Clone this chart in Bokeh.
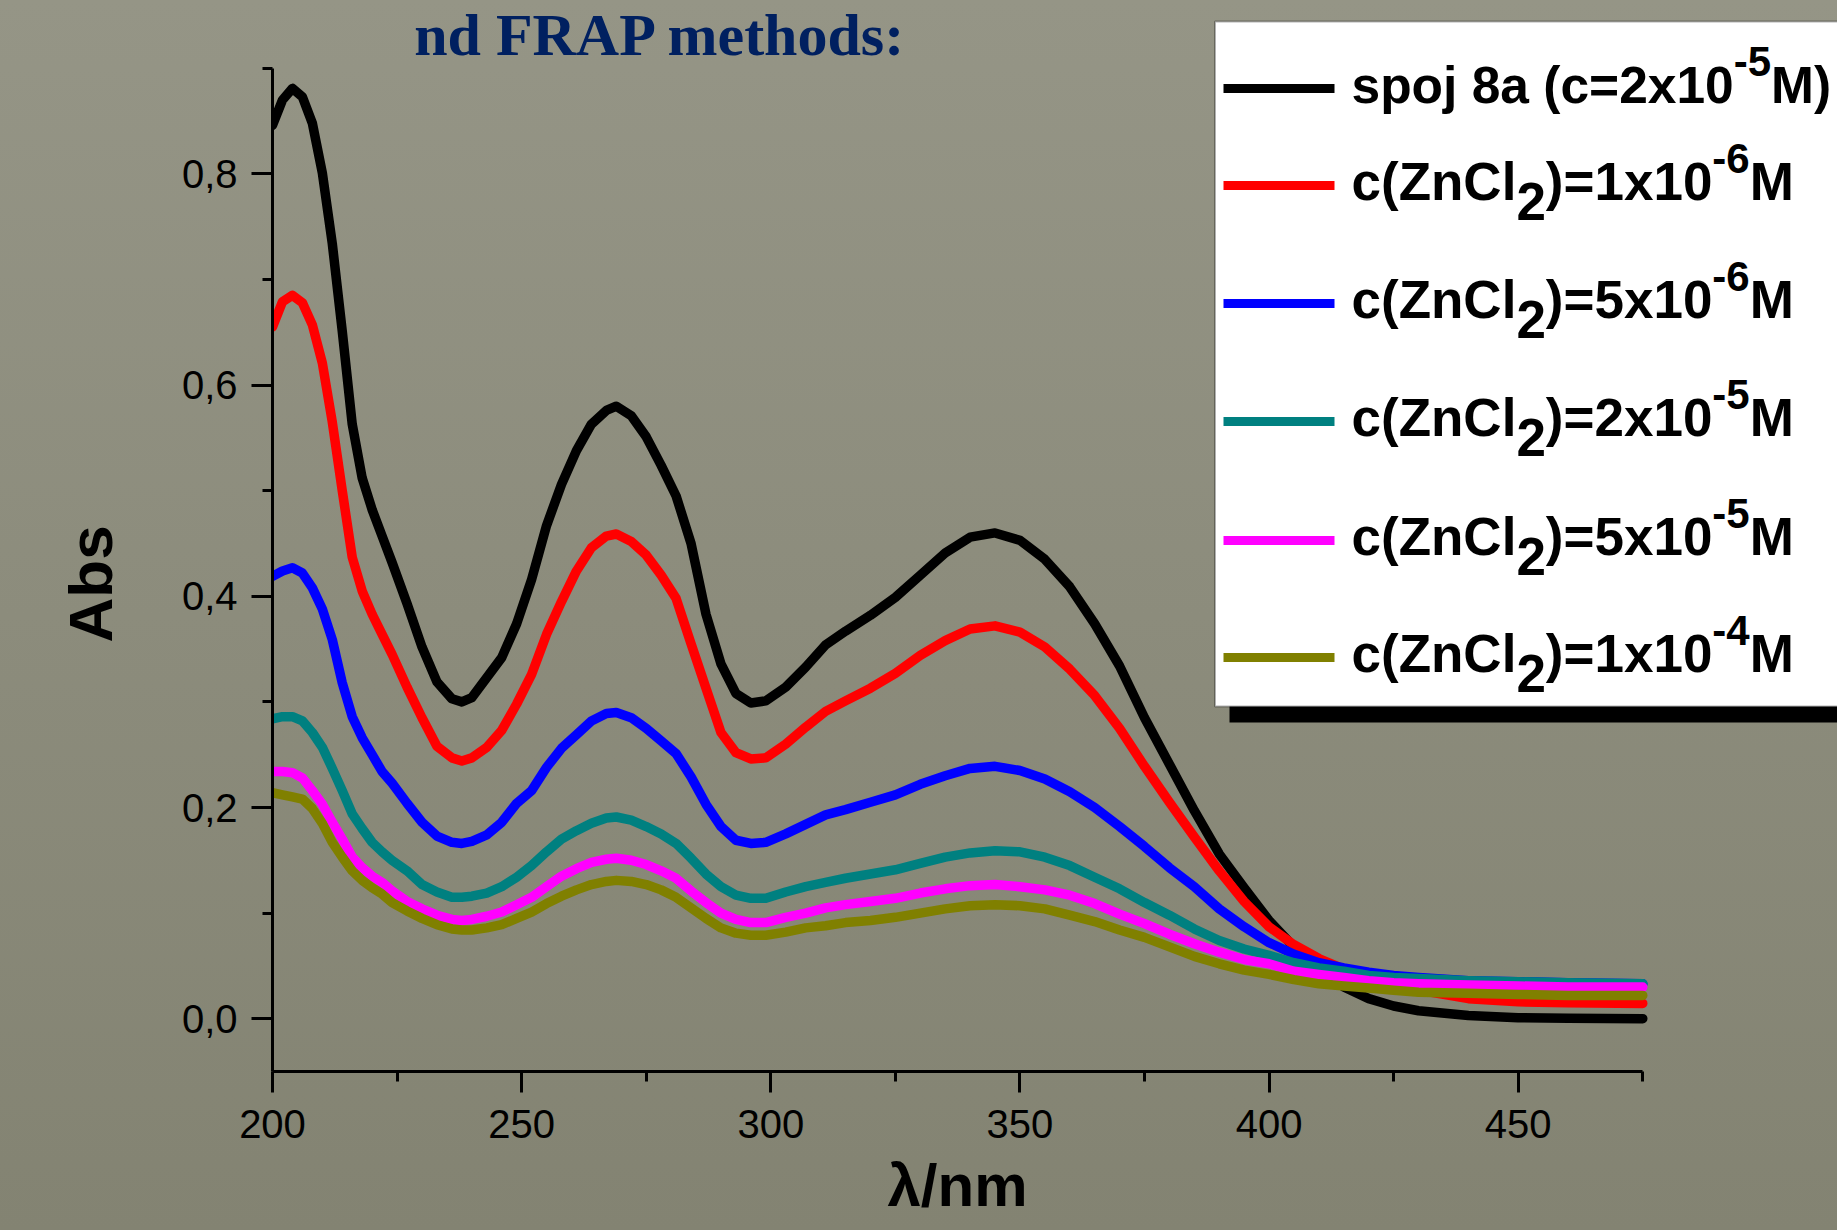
from bokeh.plotting import figure
from bokeh.models import (Range1d, FixedTicker, CustomJSTickFormatter, Label, BoxAnnotation, Title)
from bokeh.embed import file_html
from bokeh.resources import INLINE

# ---------------- data ----------------
wavelength = [200, 202, 204, 206, 208, 210, 212, 214, 216, 218, 220, 222, 224, 227, 230, 233,
              236, 238, 240, 243, 246, 249, 252, 255, 258, 261, 264, 267, 269, 272, 275, 278,
              281, 284, 287, 290, 293, 296, 299, 303, 307, 311, 315, 320, 325, 330, 335, 340,
              345, 350, 355, 360, 365, 370, 375, 380, 385, 390, 395, 400, 405, 410, 415, 420,
              425, 430, 440, 450, 460, 475]

abs_8a = [0.846, 0.870, 0.881, 0.873, 0.848, 0.801, 0.734, 0.651, 0.563, 0.512, 0.482, 0.457,
          0.432, 0.393, 0.352, 0.319, 0.303, 0.300, 0.304, 0.323, 0.342, 0.374, 0.416, 0.467,
          0.506, 0.538, 0.563, 0.576, 0.580, 0.571, 0.551, 0.524, 0.495, 0.450, 0.383, 0.336,
          0.308, 0.299, 0.301, 0.314, 0.333, 0.354, 0.367, 0.382, 0.399, 0.420, 0.441, 0.456,
          0.460, 0.453, 0.435, 0.409, 0.374, 0.334, 0.285, 0.241, 0.197, 0.156, 0.124, 0.093,
          0.068, 0.048, 0.030, 0.019, 0.012, 0.0075, 0.003, 0.001, 0.0005, 0.0]

abs_zn_1e6 = [0.655, 0.679, 0.685, 0.678, 0.657, 0.621, 0.565, 0.500, 0.437, 0.405, 0.383, 0.364,
              0.345, 0.314, 0.285, 0.258, 0.247, 0.244, 0.247, 0.257, 0.273, 0.298, 0.326, 0.364,
              0.395, 0.424, 0.446, 0.457, 0.459, 0.452, 0.439, 0.420, 0.398, 0.355, 0.313, 0.271,
              0.252, 0.246, 0.247, 0.260, 0.276, 0.291, 0.301, 0.313, 0.327, 0.344, 0.358, 0.369,
              0.372, 0.366, 0.352, 0.331, 0.306, 0.275, 0.239, 0.205, 0.172, 0.140, 0.111, 0.087,
              0.070, 0.057, 0.047, 0.040, 0.034, 0.027, 0.019, 0.016, 0.015, 0.0145]

abs_zn_5e6 = [0.419, 0.424, 0.427, 0.422, 0.408, 0.388, 0.359, 0.318, 0.286, 0.266, 0.250, 0.234,
              0.223, 0.204, 0.186, 0.173, 0.167, 0.166, 0.168, 0.174, 0.186, 0.204, 0.216, 0.238,
              0.256, 0.269, 0.282, 0.289, 0.290, 0.285, 0.275, 0.263, 0.251, 0.229, 0.203, 0.182,
              0.169, 0.166, 0.167, 0.175, 0.184, 0.193, 0.198, 0.205, 0.212, 0.222, 0.230, 0.237,
              0.239, 0.235, 0.227, 0.215, 0.200, 0.182, 0.163, 0.143, 0.125, 0.104, 0.087, 0.072,
              0.061, 0.053, 0.048, 0.044, 0.041, 0.039, 0.036, 0.035, 0.034, 0.033]

abs_zn_2e5 = [0.284, 0.286, 0.286, 0.282, 0.271, 0.257, 0.237, 0.216, 0.194, 0.180, 0.167, 0.158,
              0.150, 0.140, 0.127, 0.120, 0.115, 0.115, 0.116, 0.119, 0.125, 0.134, 0.145, 0.158,
              0.170, 0.178, 0.185, 0.190, 0.191, 0.188, 0.182, 0.175, 0.166, 0.152, 0.137, 0.125,
              0.117, 0.114, 0.114, 0.120, 0.125, 0.129, 0.133, 0.137, 0.141, 0.147, 0.153, 0.157,
              0.159, 0.158, 0.153, 0.145, 0.134, 0.123, 0.110, 0.098, 0.085, 0.074, 0.066, 0.060,
              0.053, 0.048, 0.045, 0.041, 0.039, 0.038, 0.036, 0.035, 0.034, 0.033]

abs_zn_5e5 = [0.234, 0.234, 0.233, 0.228, 0.216, 0.203, 0.186, 0.170, 0.153, 0.143, 0.135, 0.129,
              0.121, 0.111, 0.104, 0.098, 0.094, 0.093, 0.094, 0.097, 0.101, 0.108, 0.115, 0.125,
              0.135, 0.142, 0.148, 0.151, 0.152, 0.150, 0.146, 0.140, 0.133, 0.121, 0.110, 0.100,
              0.094, 0.091, 0.091, 0.096, 0.100, 0.105, 0.108, 0.111, 0.114, 0.119, 0.123, 0.126,
              0.127, 0.125, 0.122, 0.117, 0.109, 0.099, 0.090, 0.080, 0.071, 0.063, 0.056, 0.052,
              0.045, 0.042, 0.039, 0.036, 0.034, 0.033, 0.032, 0.031, 0.030, 0.030]

abs_zn_1e4 = [0.214, 0.212, 0.210, 0.208, 0.199, 0.185, 0.167, 0.153, 0.140, 0.131, 0.124, 0.118,
              0.110, 0.102, 0.095, 0.089, 0.085, 0.084, 0.084, 0.086, 0.089, 0.095, 0.101, 0.109,
              0.116, 0.122, 0.127, 0.130, 0.131, 0.130, 0.127, 0.122, 0.115, 0.105, 0.095, 0.086,
              0.081, 0.079, 0.079, 0.082, 0.086, 0.088, 0.091, 0.093, 0.096, 0.100, 0.104, 0.107,
              0.108, 0.107, 0.104, 0.098, 0.092, 0.084, 0.077, 0.068, 0.059, 0.052, 0.046, 0.042,
              0.037, 0.033, 0.031, 0.029, 0.027, 0.025, 0.024, 0.023, 0.022, 0.022]

series = [abs_8a, abs_zn_1e6, abs_zn_5e6, abs_zn_2e5, abs_zn_5e5, abs_zn_1e4]
colors = ["#000000", "#ff0000", "#0000ff", "#008080", "#ff00ff", "#808000"]

# legend texts: (text, kind) pieces; kind: n = normal, sub, sup
legend_labels = [
    [("spoj 8a (c=2x10", "n"), ("-5", "sup"), ("M)", "n")],
    [("c(ZnCl", "n"), ("2", "sub"), (")=1x10", "n"), ("-6", "sup"), ("M", "n")],
    [("c(ZnCl", "n"), ("2", "sub"), (")=5x10", "n"), ("-6", "sup"), ("M", "n")],
    [("c(ZnCl", "n"), ("2", "sub"), (")=2x10", "n"), ("-5", "sup"), ("M", "n")],
    [("c(ZnCl", "n"), ("2", "sub"), (")=5x10", "n"), ("-5", "sup"), ("M", "n")],
    [("c(ZnCl", "n"), ("2", "sub"), (")=1x10", "n"), ("-4", "sup"), ("M", "n")],
]

x_label = "λ/nm"
y_label = "Abs"
title_text = "nd FRAP methods:"
x_bounds = (200, 475)
y_bounds = (-0.05, 0.9)
x_major = [200, 250, 300, 350, 400, 450]
x_minor = [225, 275, 325, 375, 425, 475]
y_major = [0.0, 0.2, 0.4, 0.6, 0.8]
y_minor = [0.1, 0.3, 0.5, 0.7, 0.9]

# ---------------- layout ----------------
W, H = 1837, 1230
FL, FB = 271, 1071            # frame left / bottom (canvas px); frame reaches top & right edge
PX_PER_NM = 4.986
PX_PER_ABS = 1056.0
x_end = x_bounds[0] + (W - FL) / PX_PER_NM
y_end = y_bounds[0] + FB / PX_PER_ABS

p = figure(width=W, height=H, x_range=Range1d(x_bounds[0], x_end),
           y_range=Range1d(y_bounds[0], y_end),
           output_backend="svg", toolbar_location=None,
           min_border_left=FL, min_border_right=0, min_border_top=0,
           min_border_bottom=H - FB)
p.outline_line_color = None
p.grid.visible = False
p.background_fill_alpha = 0
p.border_fill_alpha = 0
p.styles = {"background": "linear-gradient(180deg, #959586 0%, #8c8c7c 50%, #838372 100%)"}

for ys, c in zip(series, colors):
    p.line(wavelength, ys, line_color=c, line_width=9.5, line_join="round", line_cap="round")

for ax in (p.xaxis[0], p.yaxis[0]):
    ax.axis_line_width = 3
    ax.axis_line_color = "black"
    ax.major_tick_line_width = 3
    ax.minor_tick_line_width = 3
    ax.major_tick_in = 0
    ax.minor_tick_in = 0
    ax.major_tick_out = 21
    ax.minor_tick_out = 10
    ax.major_label_text_font = "Liberation Sans"
    ax.major_label_text_font_size = "40px"
    ax.major_label_text_color = "black"

xa, ya = p.xaxis[0], p.yaxis[0]
xa.bounds = x_bounds
ya.bounds = y_bounds
xa.ticker = FixedTicker(ticks=x_major, minor_ticks=x_minor)
xa.major_label_standoff = 17
ya.ticker = FixedTicker(ticks=y_major, minor_ticks=y_minor)
ya.formatter = CustomJSTickFormatter(code="return tick.toFixed(1).replace('.', ',');")
ya.major_label_standoff = 14

# axis titles in the side panels, positioned along the drawn axes (not the wider frame)
p.add_layout(Title(text=x_label, align="left", offset=886 - FL, standoff=18,
                   vertical_align="bottom",
                   text_font="Liberation Sans", text_font_style="bold", text_font_size="60px",
                   text_color="black"), "below")
p.add_layout(Title(text=y_label, align="left", offset=FB - 642, standoff=107,
                   vertical_align="bottom",
                   text_font="Liberation Sans", text_font_style="bold", text_font_size="62px",
                   text_color="black"), "left")


# screen helpers: reference px -> frame-relative screen units (y measured upward)
def sx(xref):
    return xref - FL


def sy(yref, size=0):
    # Label baseline is drawn ~0.4 em below the given y: compensate
    return FB - (yref - 0.40 * size)


# slide title remnant at top
p.add_layout(Label(x=sx(906), y=sy(58, 60), x_units="screen", y_units="screen",
                   text=title_text, text_font="Liberation Serif", text_font_style="bold",
                   text_font_size="60px", text_align="right", text_baseline="alphabetic",
                   text_color="#002060"))

# ---------------- legend ----------------
p.add_layout(BoxAnnotation(left=sx(1228), right=sx(1900), top=sy(60), bottom=sy(722),
                           left_units="screen", right_units="screen", top_units="screen",
                           bottom_units="screen", fill_color="black", fill_alpha=1,
                           line_color=None))
p.add_layout(BoxAnnotation(left=sx(1213.5), right=sx(1900), top=sy(21), bottom=sy(706),
                           left_units="screen", right_units="screen", top_units="screen",
                           bottom_units="screen", fill_color="white", fill_alpha=1,
                           line_color="black", line_width=2))

ARIAL_B = {"(": 333, ")": 333, "=": 584, "-": 333, "x": 556, "c": 556, "n": 611, "l": 278,
           "Z": 611, "C": 722, "M": 833, "s": 556, "p": 611, "o": 611, "j": 278, "a": 556,
           " ": 278}
for d in "0123456789":
    ARIAL_B[d] = 556


def text_w(t, size):
    return sum(ARIAL_B.get(ch, 556) for ch in t) / 1000.0 * size


row_y = [88, 185, 303, 421, 540, 657]
row_font = [51.5, 53, 53, 53, 53, 53]   # first entry slightly smaller so it stays inside the page
F_SUP = 42
for pieces, c, ly, f_main in zip(legend_labels, colors, row_y, row_font):
    p.add_layout(BoxAnnotation(left=sx(1222), right=sx(1333), top=sy(ly - 4.5), bottom=sy(ly + 4.5),
                               left_units="screen", right_units="screen", top_units="screen",
                               bottom_units="screen", fill_color=c, fill_alpha=1, line_color=None))
    x = 1350
    base = ly + 17
    for t, kind in pieces:
        if kind == "sup":
            size, yb = F_SUP, base - 27
        elif kind == "sub":
            size, yb = f_main, base + 20
        else:
            size, yb = f_main, base
        p.add_layout(Label(x=sx(x), y=sy(yb, size), x_units="screen", y_units="screen", text=t,
                           text_font="Liberation Sans", text_font_style="bold",
                           text_font_size=f"{size}px", text_align="left",
                           text_baseline="alphabetic", text_color="black"))
        x += text_w(t, size)

open("out.html", "w").write(file_html(p, INLINE))
